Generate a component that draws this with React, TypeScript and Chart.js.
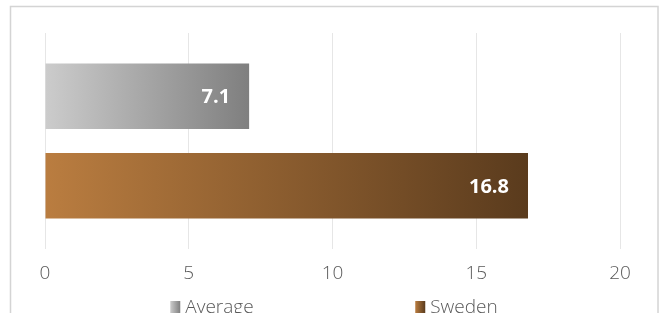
import React, { useEffect, useRef } from "react";
import { Chart, registerables } from "chart.js";

Chart.register(...registerables);

const categories = [""];
const seriesNames = ["Average", "Sweden"];
const averageValues = [7.1];
const swedenValues = [16.8];
const tickValues = [0, 5, 10, 15, 20];
const xMin = 0;
const xMax = 20;

const gradientColors: Record<string, [string, string]> = {
  Average: ["#cccccc", "#7f7f7f"],
  Sweden: ["#ba7d40", "#5a3b1d"],
};

const FONT = "'Open Sans', 'DejaVu Sans', sans-serif";

function barGradient(name: string) {
  return (ctx: any) => {
    const chart = ctx.chart;
    const xs = chart.scales && chart.scales.x;
    const stops = gradientColors[name];
    if (!xs || !chart.chartArea || ctx.raw === undefined) return stops[0];
    const x0 = xs.getPixelForValue(0);
    const x1 = xs.getPixelForValue(ctx.raw);
    const g = chart.ctx.createLinearGradient(x0, 0, x1, 0);
    g.addColorStop(0, stops[0]);
    g.addColorStop(1, stops[1]);
    return g;
  };
}

const framePlugin = {
  id: "frame",
  beforeDraw(chart: any) {
    const c = chart.ctx;
    c.save();
    c.strokeStyle = "#d4d4d4";
    c.lineWidth = 1.5;
    c.strokeRect(10.5, 6.5, chart.width - 17.5, chart.height + 50);
    c.restore();
  },
};

const valueLabelPlugin = {
  id: "valueLabels",
  afterDatasetsDraw(chart: any) {
    const c = chart.ctx;
    c.save();
    c.font = `bold 20px ${FONT}`;
    c.fillStyle = "#ffffff";
    c.textAlign = "right";
    c.textBaseline = "middle";
    chart.data.datasets.forEach((ds: any, i: number) => {
      const meta = chart.getDatasetMeta(i);
      meta.data.forEach((bar: any, j: number) => {
        const v = ds.data[j];
        c.fillText(v.toFixed(1), bar.x - 19, bar.y + 1);
      });
    });
    c.restore();
  },
};

const legendPlugin = {
  id: "customLegend",
  afterDraw(chart: any) {
    const c = chart.ctx;
    c.save();
    c.font = `300 19px ${FONT}`;
    c.textBaseline = "middle";
    c.textAlign = "left";
    const pitch = 245;
    const box = 10;
    const gap = 5;
    const names = chart.data.datasets.map((d: any) => d.label);
    const lastW = box + gap + c.measureText(names[names.length - 1]).width;
    const total = pitch * (names.length - 1) + lastW;
    const cx = (10 + chart.width - 7) / 2;
    let x = cx - total / 2;
    const y = 308;
    names.forEach((n: string) => {
      const stops = gradientColors[n];
      const g = c.createLinearGradient(x, 0, x + box, 0);
      g.addColorStop(0, stops[0]);
      g.addColorStop(1, stops[1]);
      c.fillStyle = g;
      c.fillRect(x, y - 7, box, box + 4);
      c.fillStyle = "#595959";
      c.fillText(n, x + box + gap, y);
      x += pitch;
    });
    c.restore();
  },
};

export default function App() {
  const ref = useRef<HTMLCanvasElement | null>(null);
  useEffect(() => {
    if (!ref.current) return;
    const chart = new Chart(ref.current, {
      type: "bar",
      data: {
        labels: categories,
        datasets: [
          {
            label: seriesNames[0],
            data: averageValues,
            backgroundColor: barGradient(seriesNames[0]),
            categoryPercentage: 0.83,
            barPercentage: 0.73,
          },
          {
            label: seriesNames[1],
            data: swedenValues,
            backgroundColor: barGradient(seriesNames[1]),
            categoryPercentage: 0.83,
            barPercentage: 0.73,
          },
        ],
      },
      options: {
        indexAxis: "y",
        animation: false,
        responsive: false,
        maintainAspectRatio: false,
        layout: { padding: { top: 33, left: 45, right: 45, bottom: 0 } },
        plugins: {
          legend: { display: false },
          tooltip: { enabled: false },
          title: { display: false },
        },
        scales: {
          x: {
            min: xMin,
            max: xMax,
            afterBuildTicks: (s: any) => {
              s.ticks = tickValues.map((v) => ({ value: v }));
            },
            afterFit: (s: any) => {
              s.height = 64;
            },
            grid: {
              color: "#e6e6e6",
              drawTicks: false,
              lineWidth: 1,
            },
            border: { display: false },
            ticks: {
              padding: 13,
              color: "#595959",
              font: { family: FONT, size: 19, weight: "300" },
              maxRotation: 0,
            },
          },
          y: {
            display: false,
          },
        },
      },
      plugins: [framePlugin, valueLabelPlugin, legendPlugin],
    } as any);
    return () => chart.destroy();
  }, []);
  return (
    <div style={{ position: "fixed", left: 0, top: 0, width: 665, height: 313, background: "#fff" }}>
      <canvas ref={ref} width={665} height={313} style={{ width: 665, height: 313, display: "block" }} />
    </div>
  );
}
